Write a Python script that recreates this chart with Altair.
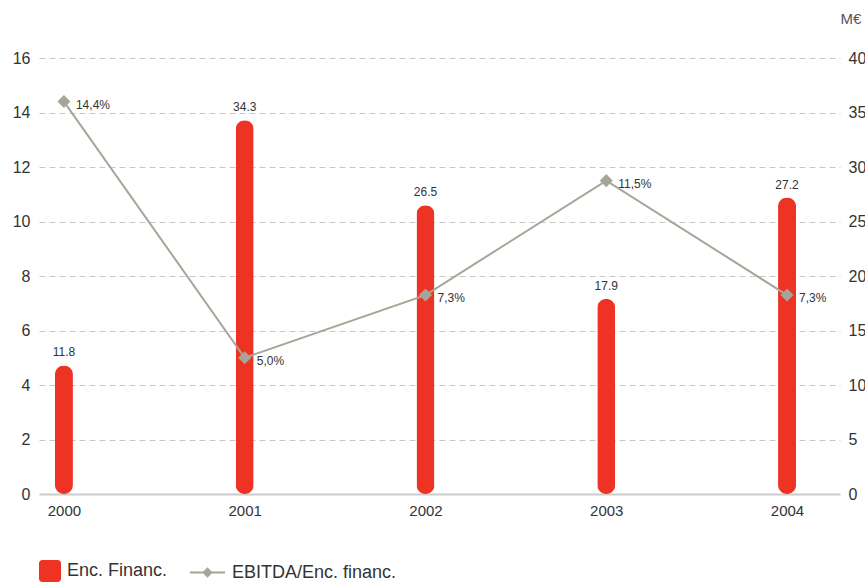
import altair as alt
import pandas as pd

years = [2000, 2001, 2002, 2003, 2004]
enc_financ = [11.8, 34.3, 26.5, 17.9, 27.2]
ebitda_ratio = [14.4, 5.0, 7.3, 11.5, 7.3]

df = pd.DataFrame({
    "year": years,
    "enc": enc_financ,
    "ratio": ebitda_ratio,
    "ratio_label": [f"{v:.1f}".replace(".", ",") + "%" for v in ebitda_ratio],
    "enc_label": [f"{v:.1f}" for v in enc_financ],
    "s1": "Enc. Financ.",
    "s2": "EBITDA/Enc. financ.",
})

RED = "#EE3224"
GRAY = "#A6A698"
FONT = "Liberation Sans"
TXT = "#333333"

x = alt.X("year:Q",
          scale=alt.Scale(domain=[1999.862, 2004.293], nice=False, zero=False, padding=0),
          axis=alt.Axis(values=years, format="d", title=None, grid=False, ticks=False,
                        labelFontSize=15, labelPadding=9, domainColor="#CCCCCC",
                        domainWidth=2, labelColor=TXT, labelFont=FONT))

yR = alt.Y("enc:Q", scale=alt.Scale(domain=[0, 40], nice=False),
           axis=alt.Axis(orient="right", values=list(range(0, 41, 5)), grid=False,
                         ticks=False, domain=False, labelFontSize=16, labelPadding=8,
                         labelColor=TXT, labelFont=FONT,
                         title="M€", titleAngle=0, titleAlign="left",
                         titleBaseline="middle", titleX=0, titleY=-40,
                         titleFontSize=15, titleFontWeight="normal",
                         titleColor="#555555", titleFont=FONT))

yL = alt.Y("ratio:Q", scale=alt.Scale(domain=[0, 16], nice=False),
           axis=alt.Axis(orient="left", values=list(range(0, 17, 2)), grid=True,
                         gridDash=[6, 4], gridColor="#C8C8C8", gridWidth=1,
                         ticks=False, domain=False, labelFontSize=16, labelPadding=9,
                         labelColor=TXT, labelFont=FONT, title=None))

rounded_sq = ("M-0.7,-1H0.7A0.3,0.3,0,0,1,1,-0.7V0.7A0.3,0.3,0,0,1,0.7,1"
              "H-0.7A0.3,0.3,0,0,1,-1,0.7V-0.7A0.3,0.3,0,0,1,-0.7,-1Z")
line_sym = "M-1,0H1M0,-0.22L0.22,0L0,0.22L-0.22,0Z"

bars = alt.Chart(df).mark_bar(size=18, cornerRadius=9).encode(
    x=x, y=yR,
    fill=alt.Fill("s1:N", scale=alt.Scale(range=[RED]),
                  legend=alt.Legend(orient="none", legendX=0, legendY=502,
                                    title=None, symbolType=rounded_sq,
                                    symbolSize=484, labelFontSize=18,
                                    labelFont=FONT, labelColor=TXT,
                                    symbolStrokeWidth=0, padding=0,
                                    labelOffset=6, labelLimit=400)),
)
bar_text = alt.Chart(df).mark_text(dy=-6, baseline="bottom", fontSize=12,
                                   font=FONT, color=TXT).encode(
    x=x, y=yR, text="enc_label:N")

line = alt.Chart(df).mark_line(strokeWidth=2).encode(
    x=x, y=yL,
    stroke=alt.Stroke("s2:N", scale=alt.Scale(range=[GRAY]),
                      legend=alt.Legend(orient="none", legendX=150, legendY=496,
                                        title=None, symbolType=line_sym,
                                        symbolSize=1225, symbolFillColor=GRAY,
                                        symbolStrokeColor=GRAY,
                                        symbolStrokeWidth=2,
                                        labelFontSize=18, labelFont=FONT,
                                        labelColor=TXT, padding=0,
                                        labelOffset=6, labelLimit=400)),
)
points = alt.Chart(df).mark_point(shape="diamond", filled=True, size=170,
                                  color=GRAY, opacity=1).encode(x=x, y=yL)
line_text = alt.Chart(df).mark_text(align="left", dx=12, dy=3, fontSize=12,
                                    font=FONT, color=TXT).encode(
    x=x, y=yL, text="ratio_label:N")

chart = alt.layer(
    alt.layer(bars, bar_text),
    alt.layer(line, points, line_text),
).resolve_scale(y="independent").properties(
    width=801, height=436,
    autosize=alt.AutoSizeParams(type="none"),
    padding={"left": 39, "top": 58, "right": 25, "bottom": 92},
).configure(background="white").configure_view(stroke=None)

chart.save("out.html", embed_options={"renderer": "svg", "actions": False})
